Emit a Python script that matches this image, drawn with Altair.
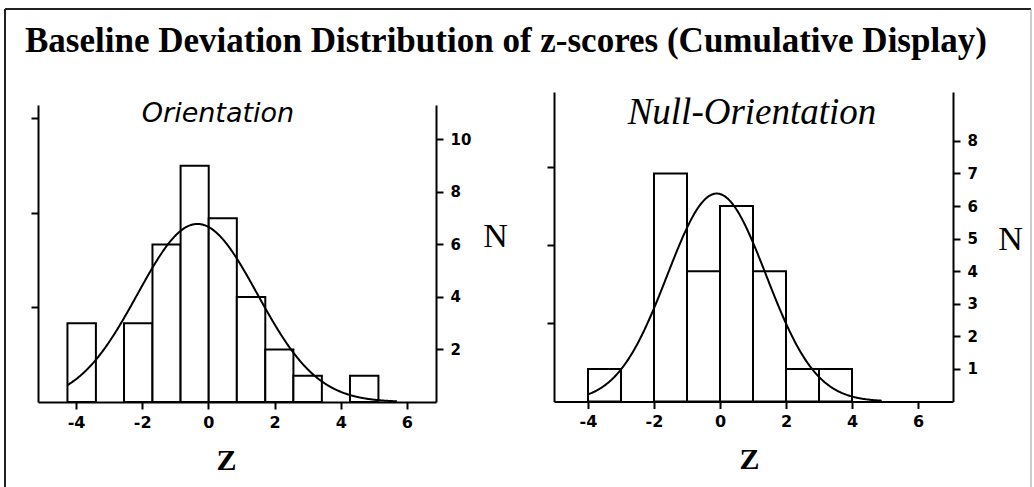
import altair as alt
import pandas as pd

W, H = 1034, 487

# Orientation condition: histogram bin edges and counts, with fitted normal curve
orient_edges = [-4.26, -3.40, -2.55, -1.69, -0.84, 0.01, 0.86, 1.72, 2.57, 3.43, 4.28, 5.14]
orient_counts = [3, 0, 3, 6, 9, 7, 4, 2, 1, 0, 1]
orient_mean, orient_sd = -0.33, 1.81
orient_curve_span = [-4.26, 5.7]

# Null-orientation condition
null_edges = [-4, -3, -2, -1, 0, 1, 2, 3, 4]
null_counts = [1, 0, 7, 4, 6, 4, 1, 1]
null_mean, null_sd = -0.1, 1.5
null_curve_span = [-4.0, 4.9]

x_ticks = [-4, -2, 0, 2, 4, 6]
orient_n_ticks = [2, 4, 6, 8, 10]
null_n_ticks = [1, 2, 3, 4, 5, 6, 7, 8]
prop_ticks = [0.1, 0.2, 0.3]

LABEL_FONT = "DejaVu Sans"
SERIF = "Liberation Serif"


def panel(edges, counts, mean, sd, span, x_dom, x_rng, y_top, y_rng, n_ticks,
          z_title_x, n_title_x, n_title_y):
    n_total = sum(counts)
    bin_w = (edges[-1] - edges[0]) / len(counts)
    bars_df = pd.DataFrame({"lo": edges[:-1], "hi": edges[1:], "count": counts, "base": 0})
    bars_df = bars_df[bars_df["count"] > 0]

    x_scale = alt.Scale(domain=x_dom, range=x_rng, nice=False, zero=False)
    y_scale = alt.Scale(domain=[0, y_top], range=y_rng, nice=False, zero=False)
    x_axis = alt.Axis(
        orient="bottom", offset=y_rng[0] - H, values=x_ticks, tickSize=7,
        labelFont=LABEL_FONT, labelFontSize=16, labelFontWeight="bold", labelPadding=5,
        labelExpr="datum.value + ''", labelOverlap=False,
        title="Z", titleFont=SERIF, titleFontSize=30, titleFontWeight="bold",
        titleX=z_title_x, titleY=58, titleBaseline="middle", titleAlign="center",
    )
    y_axis = alt.Axis(
        orient="right", offset=x_rng[1] - W, values=n_ticks, tickSize=7,
        labelFont=LABEL_FONT, labelFontSize=15, labelFontWeight="bold", labelPadding=7,
        labelOverlap=False,
        title="N", titleFont=SERIF, titleFontSize=34, titleFontWeight="normal", titleAngle=0,
        titleX=n_title_x, titleY=n_title_y, titleBaseline="middle", titleAlign="center",
    )

    bars = alt.Chart(bars_df).mark_rect(fill="white", stroke="black", strokeWidth=2).encode(
        x=alt.X("lo:Q", scale=x_scale, axis=x_axis),
        x2="hi:Q",
        y=alt.Y("count:Q", scale=y_scale, axis=y_axis),
        y2="base:Q",
    )

    curve = (
        alt.Chart(alt.sequence(span[0], span[1] + 0.01, 0.02, as_="lo"))
        .transform_calculate(
            count=f"{n_total * bin_w} / ({sd} * sqrt(2 * PI)) * exp(-0.5 * pow((datum.lo - ({mean})) / {sd}, 2))"
        )
        .mark_line(color="black", strokeWidth=2)
        .encode(
            x=alt.X("lo:Q", scale=x_scale, axis=x_axis),
            y=alt.Y("count:Q", scale=y_scale, axis=y_axis),
        )
    )

    # proportion-per-bar axis on the left side
    prop = alt.Chart(alt.Data(values=[{"p": 0}])).mark_point(opacity=0).encode(
        y=alt.Y(
            "p:Q",
            scale=alt.Scale(domain=[0, y_top / n_total], range=y_rng, nice=False, zero=False),
            axis=alt.Axis(orient="left", offset=-x_rng[0], values=prop_ticks, tickSize=7,
                          labels=False, title=None),
        )
    )
    return alt.layer(alt.layer(bars, curve), prop).resolve_scale(y="independent")


left = panel(orient_edges, orient_counts, orient_mean, orient_sd, orient_curve_span,
             [-5.15, 6.88], [38, 436], 11.31, [402, 105], orient_n_ticks,
             226, 59, 236)
right = panel(null_edges, null_counts, null_mean, null_sd, null_curve_span,
              [-5.03, 7.06], [554, 953], 9.5, [401.5, 92], null_n_ticks,
              749, 57, 239)

one = alt.Data(values=[{}])

frame = [
    alt.Chart(one).mark_rule(color="#222", strokeWidth=2).encode(
        x=alt.value(5), x2=alt.value(1031), y=alt.value(9)),
    alt.Chart(one).mark_rule(color="#222", strokeWidth=2).encode(
        x=alt.value(5), y=alt.value(9), y2=alt.value(H)),
    alt.Chart(one).mark_rule(color="#999", strokeWidth=1).encode(
        x=alt.value(1031), y=alt.value(9), y2=alt.value(H)),
]

title = alt.Chart(one).mark_text(
    font=SERIF, fontSize=35, fontWeight="bold", align="left", baseline="alphabetic", color="black"
).encode(x=alt.value(25), y=alt.value(52),
         text=alt.value("Baseline Deviation Distribution of z-scores (Cumulative Display)"))

orient_label = alt.Chart(one).mark_text(
    font="DejaVu Sans", fontSize=27, fontStyle="italic", fontWeight=300, align="center",
    baseline="middle", color="black"
).encode(x=alt.value(218), y=alt.value(114), text=alt.value("Orientation"))

null_label = alt.Chart(one).mark_text(
    font=SERIF, fontSize=37, fontStyle="italic", align="center", baseline="middle", color="black"
).encode(x=alt.value(752), y=alt.value(113), text=alt.value("Null-Orientation"))

chart = (
    alt.layer(*frame, title, orient_label, null_label, left, right)
    .resolve_scale(x="independent", y="independent")
    .properties(width=W, height=H, padding=0, autosize="none", background="white")
    .configure_view(stroke=None)
    .configure_axis(domainColor="black", domainWidth=2, tickColor="black", tickWidth=2,
                    labelColor="black", titleColor="black", grid=False)
)

chart.save("out.html", embed_options={"renderer": "svg", "actions": False})
